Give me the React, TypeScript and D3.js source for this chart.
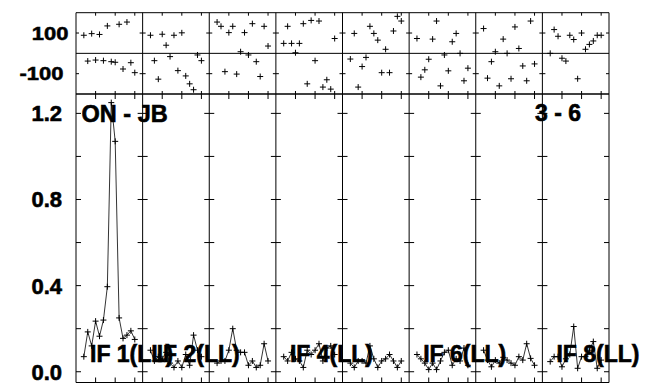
import React from "react";
import * as d3 from "d3";

const ifNumbers = [1, 2, 3, 4, 5, 6, 7, 8];
const channels = [2, 3, 4, 5, 6, 7, 8, 9, 10, 11, 12, 13, 14, 15];
const channelTicks = [5, 10, 15];
const phaseTicks = [-100, 100];
const ampTicks = [0, 0.2, 0.4, 0.6, 0.8, 1.0, 1.2];
const ampLabels = [0, 0.4, 0.8, 1.2];
const labeledIFs = [1, 2, 4, 6, 8];
const baselineLabel = "ON - JB";
const timeLabel = "3 - 6";

const phaseIF1 = [89, -38, 97, -33, 93, -36, 135, -41, -44, 143, -77, 154, -46, -95];
const phaseIF2 = [89, -36, -127, 94, 40, -16, 89, -85, 101, -111, -150, -179, -8, -36];
const phaseIF3 = [154, 133, -90, 102, 133, -102, 8, 102, -8, 146, -41, -114, 133, 36];
const phaseIF4 = [49, 133, 49, 3, 49, 146, -150, 162, -36, 159, -166, -130, -176, 73];
const phaseIF5 = [-28, 98, -166, -65, -20, 133, 98, 65, -95, 20, -95, 110, 182, 159];
const phaseIF6 = [73, -117, -81, -29, 70, 159, -160, -8, -86, 57, 98, 0, -135, -73];
const phaseIF7 = [122, -122, -41, 8, -160, 70, 0, -125, 130, 24, -62, -135, 159, -52];
const phaseIF8 = [0, 117, 84, -24, -38, 89, 68, -125, 100, 20, 44, 61, 89, 89];

const ampIF1 = [0.07, 0.185, 0.12, 0.235, 0.165, 0.24, 0.395, 1.25, 1.07, 0.25, 0.155, 0.17, 0.19, 0.15];
const ampIF2 = [0.1, 0.05, 0.07, 0.06, 0.09, 0.04, 0.02, 0.05, 0.02, 0.08, 0.03, 0.17, 0.1, 0.07];
const ampIF3 = [0.04, 0.05, 0.05, 0.1, 0.2, 0.1, 0.09, 0.09, 0.03, 0.05, 0.02, 0.03, 0.13, 0.05];
const ampIF4 = [0.07, 0.05, 0.09, 0.06, 0.05, 0.02, 0.1, 0.08, 0.1, 0.13, 0.05, 0.11, 0.12, 0.08];
const ampIF5 = [0.04, 0.02, 0.05, 0.05, 0.04, 0.12, 0.06, 0.02, 0.05, 0.06, 0.08, 0.05, 0.02, 0.05];
const ampIF6 = [0.08, 0.06, 0.04, 0.01, 0.04, 0.01, 0.05, 0.09, 0.1, 0.03, 0.06, 0.05, 0.11, 0.03];
const ampIF7 = [0.1, 0.054, 0.023, 0.054, 0.04, 0.067, 0.054, 0.04, 0.03, 0.07, 0.054, 0.13, 0.062, 0.03];
const ampIF8 = [0.047, 0.07, 0.07, 0.023, 0.06, 0.08, 0.21, 0.016, 0.07, 0.07, 0.1, 0.14, 0.016, 0.054];

const phaseSeries = [phaseIF1, phaseIF2, phaseIF3, phaseIF4, phaseIF5, phaseIF6, phaseIF7, phaseIF8];
const ampSeries = [ampIF1, ampIF2, ampIF3, ampIF4, ampIF5, ampIF6, ampIF7, ampIF8];

const W = 649;
const H = 385;
const LEFT = 76;
const RIGHT = 609;
const TOP = 12.7;
const MID = 94;
const BOTTOM = 382.5;
const FONT = "'Liberation Sans', Arial, Helvetica, sans-serif";

export default function App() {
  const ifBand = d3.scaleBand<number>().domain(ifNumbers).range([LEFT, RIGHT]).paddingInner(0).paddingOuter(0);
  const bw = ifBand.bandwidth();
  const chanScale = (i: number) =>
    d3.scaleLinear().domain([0, 17]).range([ifBand(i)!, ifBand(i)! + bw]);
  const yPhase = d3.scaleLinear().domain([-200, 200]).range([MID, TOP]);
  const yAmp = d3.scaleLinear().domain([-0.05, 1.29]).range([BOTTOM, MID]);

  const boundaries = [...ifNumbers.map((n) => ifBand(n)!), RIGHT];
  const cross = (x: number, y: number, s = 3) => `M${x - s},${y}h${2 * s}M${x},${y - s}v${2 * s}`;

  const yTick = (y: number, len: number, key: string) =>
    boundaries.map((bx, k) => {
      const x1 = k === 0 ? bx : bx - len;
      const x2 = k === boundaries.length - 1 ? bx : bx + len;
      return <line key={key + k} x1={x1} x2={x2} y1={y} y2={y} stroke="#000" strokeWidth={1} />;
    });

  return (
    <svg width={W} height={H} style={{ position: "absolute", left: 0, top: 0, background: "#fff" }}>
      <rect x={0} y={0} width={W} height={H} fill="#fff" />
      {/* frame */}
      <g stroke="#000" strokeWidth={1} fill="none">
        <line x1={LEFT} x2={RIGHT} y1={TOP} y2={TOP} />
        <line x1={LEFT} x2={RIGHT} y1={yPhase(0)} y2={yPhase(0)} />
        <line x1={LEFT} x2={RIGHT} y1={MID} y2={MID} strokeWidth={1.3} />
        <line x1={LEFT} x2={RIGHT} y1={BOTTOM} y2={BOTTOM} />
        {boundaries.map((bx, k) => (
          <line key={"v" + k} x1={bx} x2={bx} y1={TOP} y2={BOTTOM} />
        ))}
      </g>
      {/* y ticks */}
      {phaseTicks.map((t) => yTick(yPhase(t), 3, "pt" + t))}
      {ampTicks.map((t) => yTick(yAmp(t), 5, "at" + t))}
      {/* x ticks */}
      {ifNumbers.map((n) => {
        const xs = chanScale(n);
        return channelTicks.map((c) => (
          <g key={"xt" + n + "-" + c} stroke="#000" strokeWidth={1}>
            <line x1={xs(c)} x2={xs(c)} y1={TOP} y2={TOP + 3} />
            <line x1={xs(c)} x2={xs(c)} y1={MID - 3} y2={MID + 5} />
            <line x1={xs(c)} x2={xs(c)} y1={BOTTOM - 5} y2={BOTTOM} />
          </g>
        ));
      })}
      {/* phase points */}
      {ifNumbers.map((n, i) => {
        const xs = chanScale(n);
        return (
          <path
            key={"ph" + n}
            d={channels.map((c, j) => cross(xs(c), yPhase(phaseSeries[i][j]))).join("")}
            stroke="#000"
            strokeWidth={1}
            fill="none"
          />
        );
      })}
      {/* amplitude lines and points */}
      {ifNumbers.map((n, i) => {
        const xs = chanScale(n);
        const line = d3
          .line<number>()
          .x((_, j) => xs(channels[j]))
          .y((v) => yAmp(v));
        return (
          <g key={"am" + n}>
            <path d={line(ampSeries[i])!} stroke="#000" strokeWidth={0.8} fill="none" />
            <path
              d={channels.map((c, j) => cross(xs(c), yAmp(ampSeries[i][j]))).join("")}
              stroke="#000"
              strokeWidth={1}
              fill="none"
            />
          </g>
        );
      })}
      {/* axis labels */}
      <g fontFamily={FONT} fontWeight="bold" fill="#000" stroke="#000" strokeWidth={0.6}>
        {phaseTicks.map((t) => (
          <text
            key={"pl" + t}
            transform={`translate(${t > 0 ? 68.5 : 63.5},${yPhase(t) + 6.7}) scale(1,0.86)`}
            textAnchor="end"
            fontSize={22}
          >
            {t}
          </text>
        ))}
        {ampLabels.map((t) => (
          <text key={"al" + t} x={62} y={yAmp(t) + 7.9} textAnchor="end" fontSize={22}>
            {d3.format(".1f")(t)}
          </text>
        ))}
        <text x={LEFT + 5.5} y={121.5} fontSize={23.5}>
          {baselineLabel}
        </text>
        <text x={581} y={121} textAnchor="end" fontSize={23}>
          {timeLabel}
        </text>
        {labeledIFs.map((n) => (
          <text key={"if" + n} x={ifBand(n)! + 14} y={362} fontSize={23}>
            {`IF ${n}(LL)`}
          </text>
        ))}
      </g>
    </svg>
  );
}
